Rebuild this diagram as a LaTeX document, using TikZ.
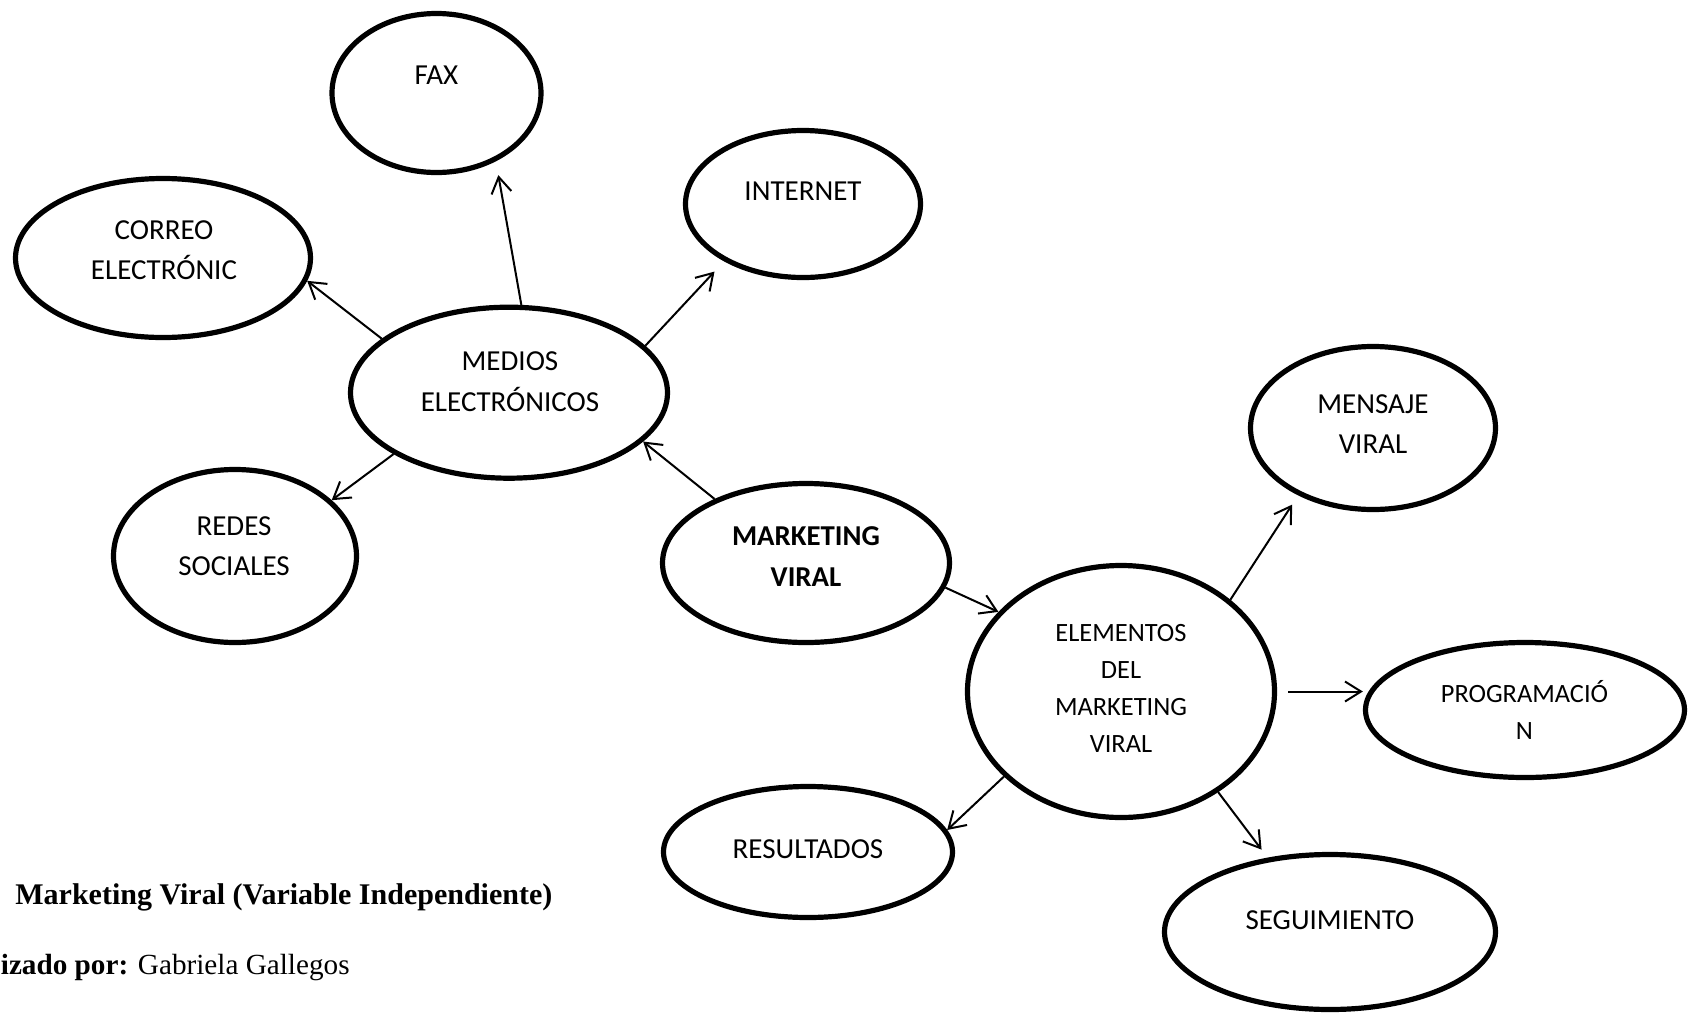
\documentclass[tikz,border=0pt]{standalone}
\usepackage{fontspec}
\setmainfont{Liberation Serif}
\newfontfamily\calibri{Carlito}
\usetikzlibrary{arrows.meta,shapes.geometric}

\begin{document}
\begin{tikzpicture}[x=0.5pt,y=-0.5pt,
  bubble/.style={draw, line width=2.6pt, ellipse, inner sep=0pt},
  txt/.style={align=center, inner sep=0pt, font=\calibri\fontsize{14.5}{20.3}\selectfont},
  txtsmall/.style={align=center, inner sep=0pt, font=\calibri\fontsize{13.2}{18.6}\selectfont},
  txtbold/.style={align=center, inner sep=0pt, font=\calibri\bfseries\fontsize{14.4}{20.8}\selectfont},
  link/.style={line width=1pt, -{Straight Barb[length=8pt,width=10pt]}}]

\useasboundingbox (0,0) rectangle (1694,1018);

% ellipses of the map
\node[bubble, minimum width=104.5pt, minimum height=79.5pt] (fax)      at (436.5,93)  {};
\node[bubble, minimum width=147.5pt, minimum height=79.5pt] (correo)   at (163,258)   {};
\node[bubble, minimum width=117.5pt, minimum height=73.5pt] (internet) at (803,204)   {};
\node[bubble, minimum width=158.5pt, minimum height=85.5pt] (medios)   at (509,392.7) {};
\node[bubble, minimum width=121.5pt, minimum height=86.5pt] (redes)    at (235,556)   {};
\node[bubble, minimum width=143.5pt, minimum height=79.5pt] (mv)       at (806,563)   {};
\node[bubble, minimum width=122.5pt, minimum height=81.5pt] (mensaje)  at (1373,428)  {};
\node[bubble, minimum width=153.5pt, minimum height=126pt]  (elem)     at (1121,691.5) {};
\node[bubble, minimum width=159.5pt, minimum height=67.5pt] (prog)     at (1525,710)  {};
\node[bubble, minimum width=144.5pt, minimum height=65.5pt] (result)   at (808,852)   {};
\node[bubble, minimum width=165.5pt, minimum height=77.5pt] (seg)      at (1330,932)  {};

% texts inside the ellipses
\node[txt]      (faxt)      at (436.5,75.6) {FAX};
\node[txt]      (correot)   at (164,250)    {CORREO\\ELECTRÓNIC};
\node[txt]      (internett) at (803,191)    {INTERNET};
\node[txt]      (mediost)   at (510,381.5)  {MEDIOS\\ELECTRÓNICOS};
\node[txt]      (redest)    at (234,546)    {REDES\\SOCIALES};
\node[txtbold]  (mvt)       at (806,556.7)  {MARKETING\\VIRAL};
\node[txt]      (mensajet)  at (1373,424)   {MENSAJE\\VIRAL};
\node[txtsmall] (elemt)     at (1121,688.4) {ELEMENTOS\\DEL\\MARKETING\\VIRAL};
\node[txtsmall] (progt)     at (1524.5,709.8) {PROGRAMACIÓ\\N};
\node[txt]      (resultt)   at (808,849)    {RESULTADOS};
\node[txt]      (segt)      at (1330,920.5) {SEGUIMIENTO};

% connectors
\draw[link] (medios.157.8) -- (correo.-9.85);
\draw[link, shorten >=7pt] (medios.82.7) -- (fax.-49.7);
\draw[link, shorten >=7pt] (medios.19.55) -- (internet.-144.9);
\draw[link] (medios.-152) -- (redes.30.9);
\draw[link] (mv.145.75) -- (medios.-20.7);
\draw[link] (mv.-10.3) -- (elem.147.5);
\draw[link, shorten >=5.5pt] (elem.40.7) -- (mensaje.-138.6);
\draw[link, shorten <=5.5pt] (elem.east) -- (elem.east -| prog.west);
\draw[link] (elem.-144.95) -- (result.9.67);
\draw[link, shorten >=5pt] (elem.-46.3) -- (seg.130.4);

% caption lines
\node[anchor=base west, inner sep=0pt, font=\bfseries\fontsize{15}{18}\selectfont] (title) at (15,904)
  {Marketing Viral (Variable Independiente)};
\node[anchor=base west, inner sep=0pt, font=\fontsize{14.6}{18}\selectfont] (author) at (0.5,974)
  {\textbf{izado por:} Gabriela Gallegos};
\end{tikzpicture}
\end{document}
